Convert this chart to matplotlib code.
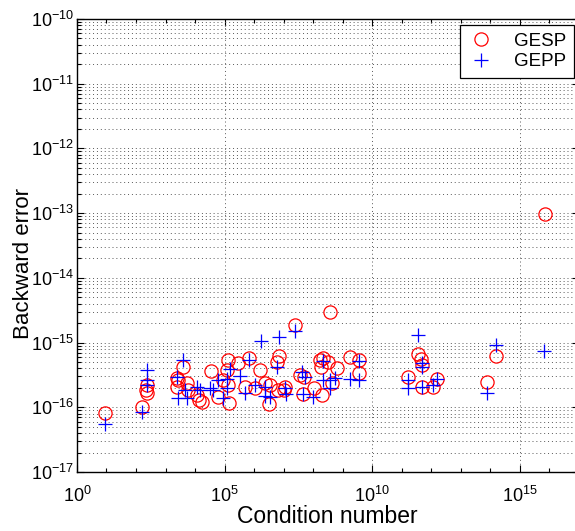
import numpy as np
import matplotlib
matplotlib.use("Agg")
import matplotlib.pyplot as plt
import matplotlib.ticker as ticker

plt.rcParams['font.family'] = ['Liberation Sans', 'DejaVu Sans']
plt.rcParams['mathtext.fontset'] = 'custom'
plt.rcParams['mathtext.rm'] = 'Liberation Sans'

# GESP (circles): condition number, backward error
gesp_cond = [8.9e0, 1.6e2, 2.4e2, 2.2e2, 2.4e2, 2.6e3, 2.5e3, 3.9e3, 5.4e3, 5.8e3,
             1.2e4, 1.4e4, 3.5e4, 6.0e4, 1.7e4, 3.8e8, 2.5e7, 7.0e6, 6.0e6, 6.8e5,
             2.9e5, 1.3e5, 1.2e5, 1.6e6, 8.9e4, 1.3e5, 1.4e5, 4.9e5, 1.1e6, 2.4e6,
             3.5e6, 6.5e6, 1.1e7, 1.0e7, 3.2e6, 3.6e7, 4.9e7, 1.1e8, 4.6e7, 2.0e8,
             1.7e8, 2.2e8, 3.2e8, 1.9e8, 6.5e8, 1.8e9, 3.6e9, 3.6e9, 7.3e15, 1.6e14,
             7.9e13, 1.6e12, 1.2e12, 4.9e11, 4.9e11, 4.6e11, 3.6e11, 1.7e11, 4.4e8, 2.5e3]
gesp_err = [8.2e-17, 1.0e-16, 2.2e-16, 1.85e-16, 1.66e-16, 2.6e-16, 2.05e-16, 4.2e-16, 2.4e-16, 1.85e-16,
            1.55e-16, 1.3e-16, 3.6e-16, 1.45e-16, 1.2e-16, 3.0e-15, 1.9e-15, 6.2e-16, 5.0e-16, 5.8e-16,
            4.8e-16, 5.4e-16, 3.8e-16, 3.8e-16, 2.6e-16, 2.2e-16, 1.17e-16, 2.05e-16, 2.0e-16, 2.4e-16,
            2.2e-16, 1.85e-16, 2.05e-16, 1.85e-16, 1.12e-16, 3.2e-16, 2.95e-16, 2.0e-16, 1.6e-16, 1.55e-16,
            5.4e-16, 5.8e-16, 5.0e-16, 4.2e-16, 4.1e-16, 6.0e-16, 5.4e-16, 3.4e-16, 9.8e-14, 6.2e-16,
            2.5e-16, 2.7e-16, 2.05e-16, 2.05e-16, 4.5e-16, 5.6e-16, 6.6e-16, 2.95e-16, 2.4e-16, 2.8e-16]

# GEPP (plus signs)
gepp_cond = [8.9e0, 1.6e2, 2.4e2, 2.4e2, 3.9e3, 2.5e3, 2.6e3, 5.4e3, 4.6e3, 1.2e4,
             4.1e4, 6.0e4, 1.7e6, 7.0e6, 2.5e7, 6.8e5, 1.5e5, 1.2e5, 1.2e5, 3.4e5,
             1.1e6, 2.4e6, 2.4e6, 3.5e6, 1.1e7, 1.2e7, 6.0e6, 4.2e7, 5.4e7, 4.6e7,
             1.0e8, 2.2e8, 2.2e8, 3.8e8, 5.6e8, 1.8e9, 3.6e9, 3.6e9, 4.9e5, 8.9e4,
             3.2e4, 1.5e4, 3.6e11, 1.6e14, 6.8e15, 7.9e13, 1.7e11, 1.7e11, 4.9e11, 4.9e11,
             4.9e11, 1.2e12, 1.6e12, 3.8e8, 2.4e2]
gepp_err = [5.5e-17, 8.5e-17, 3.8e-16, 2.2e-16, 5.4e-16, 2.95e-16, 1.4e-16, 1.4e-16, 1.85e-16, 2.05e-16,
            1.85e-16, 2.6e-16, 1.05e-15, 1.2e-15, 1.5e-15, 5.4e-16, 3.9e-16, 2.7e-16, 2.0e-16, 3.0e-16,
            2.2e-16, 2.05e-16, 1.5e-16, 1.45e-16, 2.0e-16, 1.6e-16, 4.2e-16, 3.5e-16, 2.95e-16, 1.6e-16,
            1.45e-16, 5.2e-16, 2.6e-16, 2.6e-16, 2.8e-16, 2.7e-16, 2.6e-16, 5.2e-16, 1.66e-16, 1.4e-16,
            2.0e-16, 1.85e-16, 1.3e-15, 9.1e-16, 7.4e-16, 1.66e-16, 2.0e-16, 2.6e-16, 4.2e-16, 4.8e-16,
            2.05e-16, 2.2e-16, 2.7e-16, 2.0e-16, 2.6e-16]

fig = plt.figure(figsize=(5.75, 5.31), dpi=100)
ax = fig.add_axes([77 / 575, 59 / 531, 501.5 / 575, 453 / 531])

ax.loglog(gesp_cond, gesp_err, 'o', mfc='none', mec='red', ms=9.5, mew=0.9, label='GESP')
ax.loglog(gepp_cond, gepp_err, '+', color='blue', ms=10, mew=0.9, label='GEPP')

ax.set_xlim(1e0, 1e17)
ax.set_ylim(1e-17, 1e-10)

ax.xaxis.set_major_locator(ticker.FixedLocator([1e0, 1e5, 1e10, 1e15]))
ax.xaxis.set_minor_locator(ticker.FixedLocator([10.0 ** k for k in range(0, 18) if k % 5]))
ax.xaxis.set_minor_formatter(ticker.NullFormatter())
ax.yaxis.set_major_locator(ticker.LogLocator(base=10, numticks=20))
ax.yaxis.set_minor_locator(ticker.LogLocator(base=10, subs=np.arange(2, 10), numticks=20))
ax.yaxis.set_minor_formatter(ticker.NullFormatter())

ax.tick_params(which='both', direction='in', top=True, right=True, labelsize=13, width=0.8)
ax.tick_params(which='major', length=5)
ax.tick_params(which='minor', length=3)
ax.tick_params(axis='x', which='major', pad=10)
ax.tick_params(axis='y', which='major', pad=2)

grid_kw = dict(color='0.35', linestyle=(0, (1, 3)), linewidth=0.7)
ax.xaxis.grid(True, which='major', **grid_kw)
ax.yaxis.grid(True, which='both', **grid_kw)
ax.set_axisbelow(True)

for s in ax.spines.values():
    s.set_linewidth(1.0)

ax.set_xlabel('Condition number', fontsize=16.5)
ax.set_ylabel('Backward error', fontsize=16)
ax.xaxis.set_label_coords(0.5, -0.073)
ax.yaxis.set_label_coords(-0.086, 0.46)

leg = ax.legend(loc='upper right', bbox_to_anchor=(0.991, 0.987), borderaxespad=0,
                fontsize=13.5, fancybox=False, framealpha=1, edgecolor='black',
                handlelength=1.5, handletextpad=1.0, borderpad=0.4, labelspacing=0.2)
leg.get_frame().set_linewidth(0.9)

fig.savefig('out.png', dpi=100)
